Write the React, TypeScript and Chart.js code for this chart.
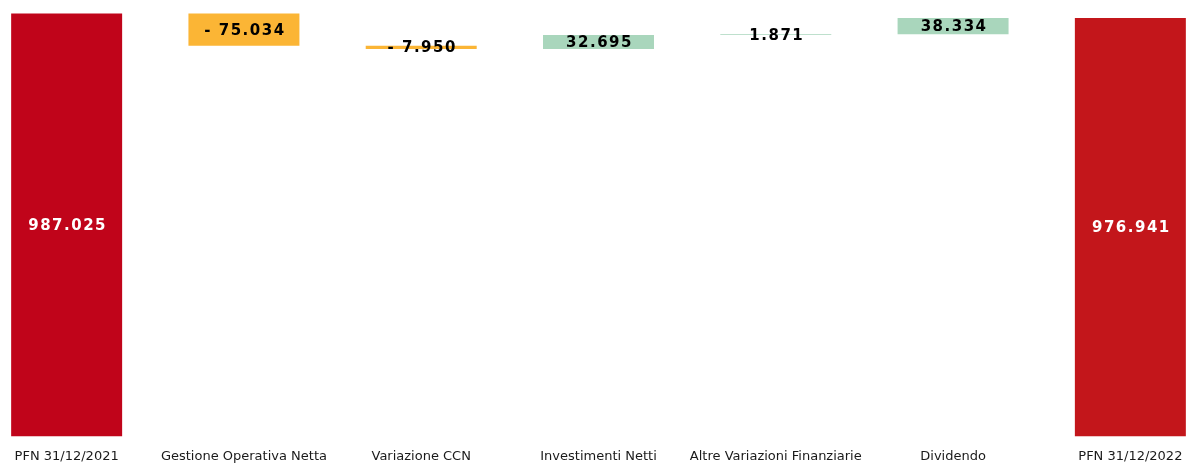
import React, { useEffect, useRef } from 'react';
import { Chart, registerables } from 'chart.js';

Chart.register(...registerables);

const categories = [
  'PFN 31/12/2021',
  'Gestione Operativa Netta',
  'Variazione CCN',
  'Investimenti Netti',
  'Altre Variazioni Finanziarie',
  'Dividendo',
  'PFN 31/12/2022',
];
const deltas = [987025, -75034, -7950, 32695, 1871, 38334, 976941];
const kinds = ['total', 'neg', 'neg', 'pos', 'pos', 'pos', 'total'];
const valueLabels = ['987.025', '- 75.034', '- 7.950', '32.695', '1.871', '38.334', '976.941'];
const barColors = ['#C0041A', '#FBB535', '#FBB535', '#A9D6BC', '#A9D6BC', '#A9D6BC', '#C3161B'];
const yMax = 1000000;

export default function App() {
  const ref = useRef<HTMLCanvasElement>(null);

  useEffect(() => {
    if (!ref.current) return;
    let run = 0;
    const ranges = deltas.map((d, i) => {
      if (kinds[i] === 'total') {
        run = d;
        return [0, d];
      }
      const start = run;
      run += d;
      return [Math.min(start, run), Math.max(start, run)];
    });

    const labelPlugin = {
      id: 'valueLabels',
      afterDatasetsDraw(chart: any) {
        const ctx = chart.ctx;
        const meta = chart.getDatasetMeta(0);
        ctx.save();
        ctx.font = 'bold 15px "DejaVu Sans"';
        (ctx as any).letterSpacing = '1.5px';
        ctx.textAlign = 'center';
        ctx.textBaseline = 'middle';
        meta.data.forEach((el: any, i: number) => {
          const { x, y, base } = el.getProps(['x', 'y', 'base'], true);
          ctx.fillStyle = kinds[i] === 'total' ? '#ffffff' : '#000000';
          ctx.fillText(valueLabels[i], x + 1, (y + base) / 2 + 1);
        });
        ctx.restore();
      },
    };

    const chart = new Chart(ref.current, {
      type: 'bar',
      data: {
        labels: categories,
        datasets: [
          {
            data: ranges as any,
            backgroundColor: barColors,
            borderWidth: 0,
            categoryPercentage: 1,
            barPercentage: 0.626,
          },
        ],
      },
      options: {
        animation: false,
        responsive: true,
        maintainAspectRatio: false,
        layout: { padding: { top: 8, left: 0, right: 0, bottom: -12 } },
        plugins: {
          legend: { display: false },
          tooltip: { enabled: false },
        },
        scales: {
          x: {
            grid: { display: false, drawTicks: false },
            border: { display: false },
            ticks: {
              color: '#1a1a1a',
              font: { family: '"DejaVu Sans"', size: 13 },
              padding: 12,
              maxRotation: 0,
              autoSkip: false,
            },
          },
          y: {
            display: false,
            min: 0,
            max: yMax,
          },
        },
      },
      plugins: [labelPlugin],
    });
    return () => chart.destroy();
  }, []);

  return (
    <div
      style={{
        position: 'fixed',
        left: 0,
        top: 0,
        width: 1189,
        height: 464,
        overflow: 'hidden',
        background: '#ffffff',
      }}
    >
      <div style={{ position: 'absolute', left: -22, top: 0, width: 1241, height: 464 }}>
        <canvas ref={ref} />
      </div>
    </div>
  );
}
